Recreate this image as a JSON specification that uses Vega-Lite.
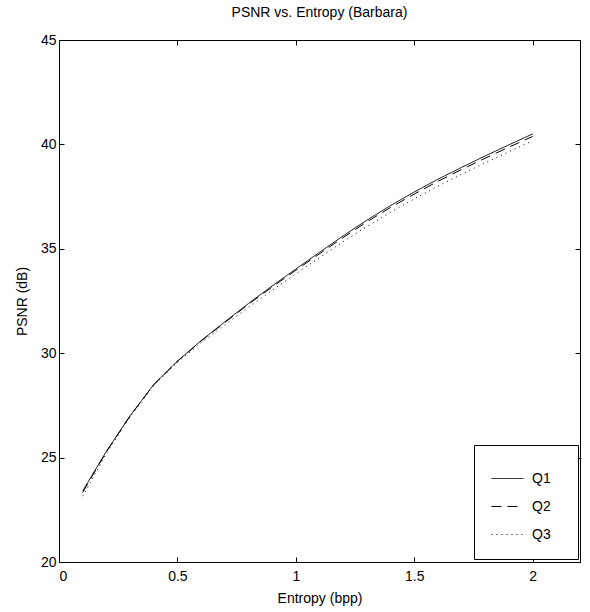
{
  "$schema": "https://vega.github.io/schema/vega-lite/v6.json",
  "width": 521,
  "height": 522,
  "autosize": {"type": "none"},
  "padding": {"left": 59, "top": 40, "right": 10, "bottom": 50},
  "background": "white",
  "title": {"text": "PSNR vs. Entropy (Barbara)", "fontSize": 14, "fontWeight": "normal", "font": "Liberation Sans", "color": "black", "offset": 13},
  "config": {
    "view": {"stroke": "black", "strokeWidth": 1},
    "font": "Liberation Sans",
    "axis": {"domain": false, "grid": false, "ticks": true, "tickSize": -5, "tickColor": "black", "tickWidth": 1,
             "labelColor": "black", "labelFontSize": 14, "labelFont": "Liberation Sans",
             "titleColor": "black", "titleFontSize": 14, "titleFontWeight": "normal", "titleFont": "Liberation Sans"}
  },
  "data": {"values": [
    {"entropy": 0.1, "psnr": 23.4, "q": "Q1"},
    {"entropy": 0.2, "psnr": 25.3, "q": "Q1"},
    {"entropy": 0.3, "psnr": 27.0, "q": "Q1"},
    {"entropy": 0.4, "psnr": 28.5, "q": "Q1"},
    {"entropy": 0.5, "psnr": 29.62, "q": "Q1"},
    {"entropy": 0.6, "psnr": 30.6, "q": "Q1"},
    {"entropy": 0.7, "psnr": 31.5, "q": "Q1"},
    {"entropy": 0.8, "psnr": 32.38, "q": "Q1"},
    {"entropy": 0.9, "psnr": 33.22, "q": "Q1"},
    {"entropy": 1.0, "psnr": 34.03, "q": "Q1"},
    {"entropy": 1.1, "psnr": 34.83, "q": "Q1"},
    {"entropy": 1.2, "psnr": 35.62, "q": "Q1"},
    {"entropy": 1.3, "psnr": 36.37, "q": "Q1"},
    {"entropy": 1.4, "psnr": 37.07, "q": "Q1"},
    {"entropy": 1.5, "psnr": 37.72, "q": "Q1"},
    {"entropy": 1.6, "psnr": 38.33, "q": "Q1"},
    {"entropy": 1.7, "psnr": 38.9, "q": "Q1"},
    {"entropy": 1.8, "psnr": 39.45, "q": "Q1"},
    {"entropy": 1.9, "psnr": 39.98, "q": "Q1"},
    {"entropy": 2.0, "psnr": 40.5, "q": "Q1"},
    {"entropy": 0.1, "psnr": 23.33, "q": "Q2"},
    {"entropy": 0.2, "psnr": 25.28, "q": "Q2"},
    {"entropy": 0.3, "psnr": 26.99, "q": "Q2"},
    {"entropy": 0.4, "psnr": 28.49, "q": "Q2"},
    {"entropy": 0.5, "psnr": 29.61, "q": "Q2"},
    {"entropy": 0.6, "psnr": 30.58, "q": "Q2"},
    {"entropy": 0.7, "psnr": 31.47, "q": "Q2"},
    {"entropy": 0.8, "psnr": 32.34, "q": "Q2"},
    {"entropy": 0.9, "psnr": 33.17, "q": "Q2"},
    {"entropy": 1.0, "psnr": 33.97, "q": "Q2"},
    {"entropy": 1.1, "psnr": 34.76, "q": "Q2"},
    {"entropy": 1.2, "psnr": 35.54, "q": "Q2"},
    {"entropy": 1.3, "psnr": 36.29, "q": "Q2"},
    {"entropy": 1.4, "psnr": 36.98, "q": "Q2"},
    {"entropy": 1.5, "psnr": 37.62, "q": "Q2"},
    {"entropy": 1.6, "psnr": 38.23, "q": "Q2"},
    {"entropy": 1.7, "psnr": 38.8, "q": "Q2"},
    {"entropy": 1.8, "psnr": 39.34, "q": "Q2"},
    {"entropy": 1.9, "psnr": 39.87, "q": "Q2"},
    {"entropy": 2.0, "psnr": 40.38, "q": "Q2"},
    {"entropy": 0.1, "psnr": 23.15, "q": "Q3"},
    {"entropy": 0.2, "psnr": 25.2, "q": "Q3"},
    {"entropy": 0.3, "psnr": 26.95, "q": "Q3"},
    {"entropy": 0.4, "psnr": 28.45, "q": "Q3"},
    {"entropy": 0.5, "psnr": 29.56, "q": "Q3"},
    {"entropy": 0.6, "psnr": 30.5, "q": "Q3"},
    {"entropy": 0.7, "psnr": 31.36, "q": "Q3"},
    {"entropy": 0.8, "psnr": 32.2, "q": "Q3"},
    {"entropy": 0.9, "psnr": 33.01, "q": "Q3"},
    {"entropy": 1.0, "psnr": 33.8, "q": "Q3"},
    {"entropy": 1.1, "psnr": 34.58, "q": "Q3"},
    {"entropy": 1.2, "psnr": 35.34, "q": "Q3"},
    {"entropy": 1.3, "psnr": 36.07, "q": "Q3"},
    {"entropy": 1.4, "psnr": 36.75, "q": "Q3"},
    {"entropy": 1.5, "psnr": 37.39, "q": "Q3"},
    {"entropy": 1.6, "psnr": 38.0, "q": "Q3"},
    {"entropy": 1.7, "psnr": 38.57, "q": "Q3"},
    {"entropy": 1.8, "psnr": 39.12, "q": "Q3"},
    {"entropy": 1.9, "psnr": 39.65, "q": "Q3"},
    {"entropy": 2.0, "psnr": 40.17, "q": "Q3"}
  ]},
  "layer": [
    {
      "mark": {"type": "line", "color": "black", "strokeWidth": 1},
      "encoding": {
        "x": {"field": "entropy", "type": "quantitative", "scale": {"domain": [0, 2.2], "nice": false},
              "axis": {"orient": "bottom", "title": "Entropy (bpp)", "values": [0, 0.5, 1, 1.5, 2], "format": "~g", "labelPadding": 12, "titlePadding": 8}},
        "y": {"field": "psnr", "type": "quantitative", "scale": {"domain": [20, 45], "nice": false, "zero": false},
              "axis": {"orient": "left", "title": "PSNR (dB)", "values": [20, 25, 30, 35, 40, 45], "labelPadding": 8, "titlePadding": 11}},
        "strokeDash": {"field": "q", "type": "nominal",
          "scale": {"domain": ["Q1", "Q2", "Q3"], "range": [[1, 0], [10, 6], [1, 4]]},
          "legend": {"title": null, "orient": "none", "legendX": 415, "legendY": 405,
                     "symbolType": "stroke", "symbolSize": 1024, "symbolStrokeColor": "black", "symbolStrokeWidth": 1,
                     "labelFontSize": 14, "labelColor": "black", "labelFont": "Liberation Sans", "labelOffset": 8,
                     "labelExpr": "datum.label + '\u2800'",
                     "padding": 17, "rowPadding": 4, "strokeColor": "black", "fillColor": "white"}},
        "order": {"field": "entropy", "type": "quantitative"}
      }
    },
    {
      "mark": {"type": "line", "strokeOpacity": 0},
      "encoding": {
        "x": {"field": "entropy", "type": "quantitative",
              "axis": {"orient": "top", "title": null, "labels": false, "values": [0, 0.5, 1, 1.5, 2]}},
        "y": {"field": "psnr", "type": "quantitative",
              "axis": {"orient": "right", "title": null, "labels": false, "values": [20, 25, 30, 35, 40, 45]}},
        "detail": {"field": "q", "type": "nominal"}
      }
    }
  ],
  "resolve": {"axis": {"x": "independent", "y": "independent"}}
}
